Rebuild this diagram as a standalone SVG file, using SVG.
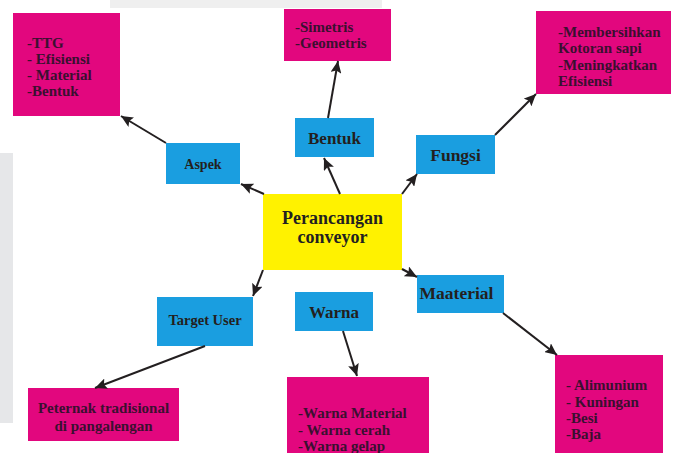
<svg xmlns="http://www.w3.org/2000/svg" width="674" height="453" viewBox="0 0 674 453">
<defs>
<marker id="ah" viewBox="0 0 10 10" refX="10" refY="5" markerWidth="6" markerHeight="5.5" orient="auto" markerUnits="strokeWidth" preserveAspectRatio="none">
<path d="M0,0 L10,5 L0,10 L2,5 Z" fill="#231f20"/>
</marker>
<style>
.mg{fill:#e2077e}
.bl{fill:#1a9ee0}
.yl{fill:#fff200}
text{font-family:"Liberation Serif","Times New Roman",serif;font-weight:bold}
.t1{font-size:15px;fill:#3a1030}
.tb{fill:#231f20}
.c{stroke:#231f20;stroke-width:2;fill:none;marker-end:url(#ah)}
</style>
</defs>
<rect x="0" y="0" width="674" height="453" fill="#ffffff"/>
<rect x="110" y="0" width="272" height="8" fill="#efefef"/>
<rect x="0" y="153" width="13" height="270" fill="#e6e7e9"/>

<g id="center">
<rect class="yl" x="263" y="194" width="139" height="76"/>
<text class="tb" x="332.5" y="224" font-size="18" text-anchor="middle">Perancangan</text>
<text class="tb" x="332.5" y="243" font-size="18" text-anchor="middle">conveyor</text>
</g>

<g id="aspek">
<rect class="bl" x="166" y="143" width="74" height="41"/>
<text class="tb" x="203" y="169" font-size="14" text-anchor="middle">Aspek</text>
</g>
<g id="aspek-detail">
<rect class="mg" x="13" y="13" width="107" height="103"/>
<text class="t1" x="27" y="48">-TTG</text>
<text class="t1" x="27" y="64">- Efisiensi</text>
<text class="t1" x="27" y="80">- Material</text>
<text class="t1" x="27" y="96">-Bentuk</text>
</g>

<g id="bentuk">
<rect class="bl" x="295" y="118" width="79" height="39"/>
<text class="tb" x="334.5" y="144" font-size="17" text-anchor="middle">Bentuk</text>
</g>
<g id="bentuk-detail">
<rect class="mg" x="284" y="9" width="107" height="52"/>
<text class="t1" x="295" y="32">-Simetris</text>
<text class="t1" x="295" y="48">-Geometris</text>
</g>

<g id="fungsi">
<rect class="bl" x="416" y="135" width="79" height="39"/>
<text class="tb" x="455.5" y="161" font-size="17.5" text-anchor="middle">Fungsi</text>
</g>
<g id="fungsi-detail">
<rect class="mg" x="536" y="11" width="135" height="83"/>
<text class="t1" x="558" y="37">-Membersihkan</text>
<text class="t1" x="558" y="53">Kotoran sapi</text>
<text class="t1" x="558" y="70">-Meningkatkan</text>
<text class="t1" x="558" y="86">Efisiensi</text>
</g>

<g id="target-user">
<rect class="bl" x="157" y="297" width="96" height="49"/>
<text class="tb" x="205" y="325" font-size="14.5" text-anchor="middle">Target User</text>
</g>
<g id="target-detail">
<rect class="mg" x="28" y="388" width="151" height="53"/>
<text class="t1" x="103.5" y="413" font-size="14.5" text-anchor="middle">Peternak tradisional</text>
<text class="t1" x="103.5" y="431" font-size="14.5" text-anchor="middle">di pangalengan</text>
</g>

<g id="warna">
<rect class="bl" x="295" y="292" width="78" height="39"/>
<text class="tb" x="334" y="318" font-size="17" text-anchor="middle">Warna</text>
</g>
<g id="warna-detail">
<rect class="mg" x="287" y="377" width="142" height="76"/>
<text class="t1" x="298" y="418">-Warna Material</text>
<text class="t1" x="298" y="435">- Warna cerah</text>
<text class="t1" x="298" y="451">-Warna gelap</text>
</g>

<g id="maaterial">
<rect class="bl" x="417" y="275" width="87" height="38"/>
<text class="tb" x="456.5" y="299" font-size="17.5" text-anchor="middle">Maaterial</text>
</g>
<g id="material-detail">
<rect class="mg" x="555" y="355" width="108" height="98"/>
<text class="t1" x="566" y="390">- Alimunium</text>
<text class="t1" x="566" y="407">- Kuningan</text>
<text class="t1" x="566" y="423">-Besi</text>
<text class="t1" x="566" y="439">-Baja</text>
</g>

<g id="connectors">
<line class="c" x1="264" y1="194" x2="241" y2="184"/>
<line class="c" x1="166" y1="143" x2="121" y2="116"/>
<line class="c" x1="340" y1="194" x2="324" y2="158"/>
<line class="c" x1="328" y1="118" x2="338" y2="61"/>
<line class="c" x1="402" y1="194" x2="417" y2="174"/>
<line class="c" x1="495" y1="135" x2="536" y2="94"/>
<line class="c" x1="263" y1="270" x2="253" y2="296"/>
<line class="c" x1="205" y1="346" x2="95" y2="388"/>
<line class="c" x1="402" y1="269" x2="417" y2="277"/>
<line class="c" x1="503" y1="313" x2="557" y2="355"/>
<line class="c" x1="343" y1="331" x2="357" y2="376"/>
</g>
</svg>
